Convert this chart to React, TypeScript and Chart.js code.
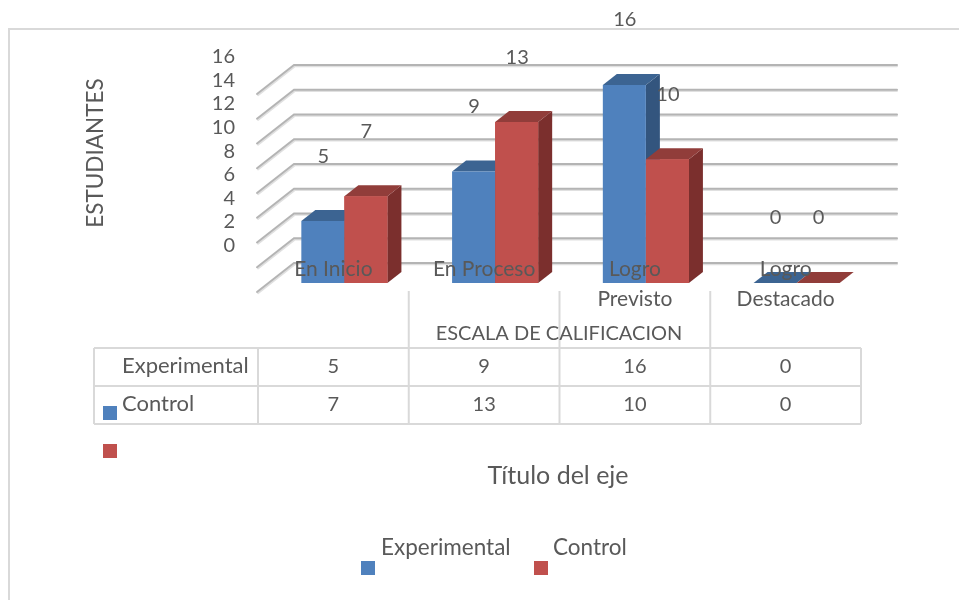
import React, { useEffect, useRef } from "react";
import { Chart, registerables } from "chart.js";

Chart.register(...registerables);

const categories = [["En Inicio"], ["En Proceso"], ["Logro", "Previsto"], ["Logro", "Destacado"]];
const seriesNames = ["Experimental", "Control"];
const experimental = [5, 9, 16, 0];
const control = [7, 13, 10, 0];
const yTickLabels = [0, 2, 4, 6, 8, 10, 12, 14, 16];
const xAxisTitle = "ESCALA DE CALIFICACION";
const yAxisTitle = "ESTUDIANTES";
const extraTitle = "Título del eje";

const FONT = "Lato, 'Open Sans', sans-serif";
const TEXT = "#595959";
const LINE = "#D9D9D9";
const fronts = ["#4F81BD", "#C0504D"];
const tops = ["#3C6492", "#913D3A"];
const sides = ["#33557E", "#7B2F2D"];
const DX = 14;
const DY = 11;

function drawDepth(ctx: any, bar: any, i: number) {
  const l = bar.x - bar.width / 2;
  const r = bar.x + bar.width / 2;
  const t = bar.y;
  const b = bar.base;
  ctx.fillStyle = sides[i];
  ctx.beginPath();
  ctx.moveTo(r, t);
  ctx.lineTo(r + DX, t - DY);
  ctx.lineTo(r + DX, b - DY);
  ctx.lineTo(r, b);
  ctx.closePath();
  ctx.fill();
  ctx.fillStyle = tops[i];
  ctx.beginPath();
  ctx.moveTo(l, t);
  ctx.lineTo(l + DX, t - DY);
  ctx.lineTo(r + DX, t - DY);
  ctx.lineTo(r, t);
  ctx.closePath();
  ctx.fill();
}

const plugin = {
  id: "excel3d",
  beforeDraw(chart: any) {
    const { ctx, width, height } = chart;
    ctx.save();
    ctx.fillStyle = "#fff";
    ctx.fillRect(0, 0, width, height);
    ctx.strokeStyle = LINE;
    ctx.lineWidth = 2;
    ctx.beginPath();
    ctx.moveTo(959, 29);
    ctx.lineTo(9, 29);
    ctx.lineTo(9, 600);
    ctx.stroke();
    ctx.restore();
  },
  beforeDatasetsDraw(chart: any) {
    const { ctx, scales } = chart;
    const y = scales.y;
    ctx.save();
    ctx.lineCap = "round";
    yTickLabels.forEach((v) => {
      const py = y.getPixelForValue(v);
      const back = py - 20;
      const front = py + 9;
      ctx.strokeStyle = "#E0E0E0";
      ctx.lineWidth = 1.8;
      ctx.beginPath();
      ctx.moveTo(258, front + 1.3);
      ctx.lineTo(295, back + 1.3);
      ctx.lineTo(897, back + 1.3);
      ctx.stroke();
      ctx.strokeStyle = "#B4B4B4";
      ctx.lineWidth = 2;
      ctx.beginPath();
      ctx.moveTo(257, front);
      ctx.lineTo(294, back);
      ctx.lineTo(897, back);
      ctx.stroke();
    });
    ctx.restore();
  },
  beforeDatasetDraw(chart: any, args: any) {
    const { ctx } = chart;
    ctx.save();
    if (args.index === 0) {
      args.meta.data.forEach((bar: any) => drawDepth(ctx, bar, 0));
    }
    ctx.restore();
  },
  afterDatasetDraw(chart: any, args: any) {
    // the second series stands in front of the first one's side face
    if (args.index !== 0) return;
    const { ctx } = chart;
    ctx.save();
    chart.getDatasetMeta(1).data.forEach((bar: any) => {
      drawDepth(ctx, bar, 1);
      bar.draw(ctx);
    });
    ctx.restore();
  },
  afterDatasetsDraw(chart: any) {
    const { ctx, scales } = chart;
    const x = scales.x;
    ctx.save();
    ctx.fillStyle = TEXT;
    ctx.textBaseline = "middle";
    ctx.textAlign = "center";
    ctx.font = `20px ${FONT}`;

    // data labels
    chart.data.datasets.forEach((ds: any, i: number) => {
      chart.getDatasetMeta(i).data.forEach((bar: any, j: number) => {
        ctx.fillText(String(ds.data[j]), bar.x + 0.5, bar.y - 65);
      });
    });

    // category separators and data table
    const edges = categories.map((_, i) => x.getPixelForValue(i) - 11 - x.width / categories.length / 2);
    edges.push(x.getPixelForValue(categories.length - 1) - 11 + x.width / categories.length / 2);
    const tTop = 348;
    const rowH = 38;
    const tLeft = 94;
    ctx.strokeStyle = LINE;
    ctx.lineWidth = 2;
    ctx.beginPath();
    [0, 1, 2].forEach((r) => {
      ctx.moveTo(tLeft, tTop + r * rowH);
      ctx.lineTo(edges[edges.length - 1], tTop + r * rowH);
    });
    ctx.moveTo(tLeft, tTop);
    ctx.lineTo(tLeft, tTop + 2 * rowH);
    edges.forEach((e, i) => {
      ctx.moveTo(e, i > 0 && i < edges.length - 1 ? 291 : tTop);
      ctx.lineTo(e, tTop + 2 * rowH);
    });
    ctx.stroke();

    [experimental, control].forEach((vals, r) => {
      const cy = tTop + rowH * r + 19;
      vals.forEach((v, c) => {
        ctx.fillText(String(v), (edges[c] + edges[c + 1]) / 2, cy);
      });
    });
    ctx.textAlign = "left";
    ctx.font = `22px ${FONT}`;
    seriesNames.forEach((name, r) => {
      ctx.fillText(name, 122, tTop + rowH * r + 18);
      ctx.fillStyle = fronts[r];
      ctx.fillRect(103, 406 + 38 * r, 14, 14);
      ctx.fillStyle = TEXT;
    });

    // titles
    ctx.textAlign = "center";
    ctx.font = `20px ${FONT}`;
    ctx.fillText(xAxisTitle, 559, 334);
    ctx.font = `25px ${FONT}`;
    ctx.fillText(extraTitle, 558, 476);
    ctx.font = `22.5px ${FONT}`;
    ctx.save();
    ctx.translate(96, 153);
    ctx.rotate(-Math.PI / 2);
    ctx.fillText(yAxisTitle, 0, 0);
    ctx.restore();

    // legend
    ctx.textAlign = "left";
    const legendMarks = [361, 534];
    const legendTexts = [381, 553];
    seriesNames.forEach((name, i) => {
      ctx.fillStyle = fronts[i];
      ctx.fillRect(legendMarks[i], 561, 14, 14);
      ctx.fillStyle = TEXT;
      ctx.fillText(name, legendTexts[i], 548);
    });
    ctx.restore();
  },
};

export default function App() {
  const ref = useRef<HTMLCanvasElement>(null);
  useEffect(() => {
    const chart = new Chart(ref.current as HTMLCanvasElement, {
      type: "bar",
      data: {
        labels: categories as any,
        datasets: [
          {
            label: seriesNames[0],
            data: experimental,
            backgroundColor: fronts[0],
            yAxisID: "y",
            categoryPercentage: 0.571,
            barPercentage: 1,
          },
          {
            label: seriesNames[1],
            data: control,
            backgroundColor: fronts[1],
            yAxisID: "y",
            categoryPercentage: 0.571,
            barPercentage: 1,
          },
        ],
      },
      options: {
        animation: false,
        responsive: false,
        devicePixelRatio: 1,
        layout: { padding: { left: 209, right: 87, top: 30, bottom: 297 } },
        plugins: { legend: { display: false }, tooltip: { enabled: false }, title: { display: false } },
        scales: {
          x: {
            display: true,
            grid: { display: false, drawTicks: false },
            border: { display: false },
            afterFit: (s: any) => {
              s.height = 20;
            },
            ticks: {
              z: 1,
              color: TEXT,
              mirror: true,
              padding: -1,
              labelOffset: -11,
              autoSkip: false,
              maxRotation: 0,
              minRotation: 0,
              font: { family: FONT, size: 21, lineHeight: 1.43 },
            },
          },
          y: { display: false, bounds: "data", min: 0, max: 20.44 },
          yLabels: {
            display: true,
            position: "left",
            bounds: "data",
            min: -3.18,
            max: 18.26,
            grid: { display: false, drawTicks: false },
            border: { display: false },
            afterFit: (s: any) => {
              s.width = 60;
              s.paddingTop = 0;
              s.paddingBottom = 0;
            },
            afterBuildTicks: (s: any) => {
              s.ticks = yTickLabels.map((v) => ({ value: v }));
            },
            ticks: {
              color: TEXT,
              padding: 34,
              font: { family: FONT, size: 20 },
            },
          },
        },
      },
      plugins: [plugin],
    } as any);
    return () => chart.destroy();
  }, []);
  return (
    <canvas
      ref={ref}
      width={959}
      height={600}
      style={{ position: "absolute", left: 0, top: 0, width: 959, height: 600 }}
    />
  );
}
